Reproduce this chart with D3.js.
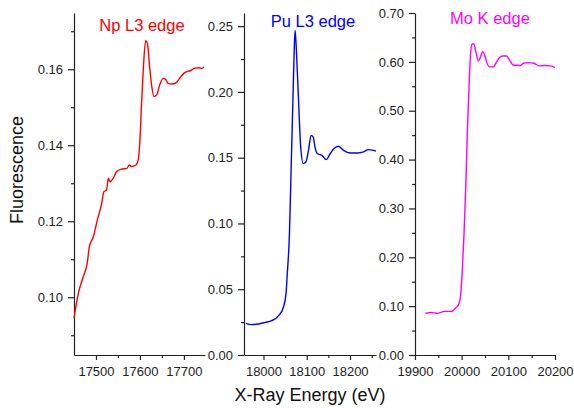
<!DOCTYPE html>
<html>
<head>
<meta charset="utf-8">
<script src="https://cdn.jsdelivr.net/npm/d3@7.9.0/dist/d3.min.js"></script>
<style>
  body { margin: 0; background: #fff; }
  svg { display: block; font-family: "Liberation Sans", Arial, sans-serif; }
  .axis path, .axis line { stroke: #222; stroke-width: 1.2; }
  .axis text { font-size: 13px; fill: #222; }
</style>
</head>
<body>
<div id="chart"></div>
<script>
// spectra: [energy eV, fluorescence]
const npSpectrum = [
  [17450, 0.0945], [17460, 0.1011], [17471, 0.1054], [17480, 0.1089], [17485, 0.1133],
  [17494, 0.1159], [17503, 0.1203], [17513, 0.1247], [17518, 0.1278], [17524, 0.1282],
  [17528, 0.1313], [17532, 0.1304], [17539, 0.1313], [17547, 0.1331], [17558, 0.1337],
  [17570, 0.1339], [17576, 0.1348], [17581, 0.1344], [17591, 0.1348], [17596, 0.1361],
  [17600, 0.1414], [17604, 0.1519], [17608, 0.1607], [17613, 0.1675], [17617, 0.1668],
  [17622, 0.1607], [17627, 0.1554], [17632, 0.1528], [17638, 0.1532], [17645, 0.1559],
  [17653, 0.1576], [17658, 0.1574], [17664, 0.1563], [17672, 0.1561], [17683, 0.1565],
  [17690, 0.1576], [17702, 0.1591], [17714, 0.1596], [17725, 0.1603], [17735, 0.1604],
  [17740, 0.1602], [17746, 0.1606]
];
const puSpectrum = [
  [17959, 0.0241], [17973, 0.0231], [17988, 0.0236], [18004, 0.0248], [18019, 0.0261],
  [18035, 0.0299], [18046, 0.0363], [18052, 0.0465], [18055, 0.0617], [18060, 0.0921],
  [18064, 0.1429], [18068, 0.1937], [18071, 0.2318], [18073, 0.2470], [18076, 0.2318],
  [18081, 0.1937], [18086, 0.1581], [18092, 0.1455], [18098, 0.1467], [18104, 0.1556],
  [18110, 0.1670], [18115, 0.1657], [18119, 0.1581], [18125, 0.1530], [18135, 0.1518],
  [18145, 0.1485], [18154, 0.1530], [18163, 0.1569], [18173, 0.1587], [18185, 0.1556],
  [18200, 0.1536], [18219, 0.1536], [18231, 0.1544], [18242, 0.1561], [18254, 0.1556],
  [18260, 0.1550]
];
const moSpectrum = [
  [19922, 0.0851], [19934, 0.0871], [19948, 0.0851], [19963, 0.0892], [19978, 0.0892],
  [19987, 0.0961], [19994, 0.1043], [19998, 0.1247], [20001, 0.1656], [20005, 0.2474],
  [20009, 0.3497], [20012, 0.4519], [20016, 0.5542], [20019, 0.6155], [20022, 0.6360],
  [20026, 0.6370], [20030, 0.6223], [20036, 0.6018], [20041, 0.6120], [20045, 0.6209],
  [20050, 0.6120], [20055, 0.5951], [20061, 0.5897], [20068, 0.5897], [20074, 0.5985],
  [20081, 0.6087], [20088, 0.6120], [20096, 0.6120], [20103, 0.6032], [20110, 0.5937],
  [20119, 0.5930], [20126, 0.5924], [20133, 0.5978], [20144, 0.5985], [20155, 0.5971],
  [20166, 0.5917], [20177, 0.5924], [20191, 0.5917], [20200, 0.5883]
];

const npXTicks = [17500, 17600, 17700];
const npXMinor = [17550, 17650];
const npYTicks = [0.10, 0.12, 0.14, 0.16];
const npYMinor = [0.09, 0.11, 0.13, 0.15, 0.17];

const puXTicks = [18000, 18100, 18200];
const puXMinor = [18050, 18150, 18250];
const puYTicks = [0.00, 0.05, 0.10, 0.15, 0.20, 0.25];
const puYMinor = [0.025, 0.075, 0.125, 0.175, 0.225];

const moXTicks = [19900, 20000, 20100, 20200];
const moXMinor = [19950, 20050, 20150];
const moYTicks = [0.00, 0.10, 0.20, 0.30, 0.40, 0.50, 0.60, 0.70];
const moYMinor = [0.05, 0.15, 0.25, 0.35, 0.45, 0.55, 0.65];

const width = 574;
const height = 408;
const plotTop = 13, plotBottom = 355;

const panels = [
  { name: 'Np L3 edge', color: '#ff0000', data: npSpectrum,
    xDomain: [17450, 17748], xRange: [74, 205], yDomain: [0.0848, 0.1748],
    xTicks: npXTicks, xMinor: npXMinor, yTicks: npYTicks, yMinor: npYMinor,
    title: [142, 31] },
  { name: 'Pu L3 edge', color: '#0000ff', data: puSpectrum,
    xDomain: [17955, 18260], xRange: [244, 376], yDomain: [0, 0.26],
    xTicks: puXTicks, xMinor: puXMinor, yTicks: puYTicks, yMinor: puYMinor,
    title: [313, 27] },
  { name: 'Mo K edge', color: '#ff00ff', data: moSpectrum,
    xDomain: [19900, 20200], xRange: [415, 555], yDomain: [0, 0.70],
    xTicks: moXTicks, xMinor: moXMinor, yTicks: moYTicks, yMinor: moYMinor,
    title: [490, 24] },
];

const svg = d3.select('#chart').append('svg')
  .attr('width', width)
  .attr('height', height);

panels.forEach(p => {
  const x = d3.scaleLinear().domain(p.xDomain).range(p.xRange);
  const y = d3.scaleLinear().domain(p.yDomain).range([plotBottom, plotTop]);

  // minor ticks first, no labels
  svg.append('g')
    .attr('class', 'axis')
    .attr('transform', `translate(0,${plotBottom})`)
    .call(d3.axisBottom(x).tickValues(p.xMinor.filter(v => v <= p.xDomain[1]))
      .tickSize(3).tickSizeOuter(0).tickFormat(''))
    .call(g => g.select('.domain').remove());

  svg.append('g')
    .attr('class', 'axis')
    .attr('transform', `translate(${p.xRange[0]},0)`)
    .call(d3.axisLeft(y).tickValues(p.yMinor).tickSize(3).tickSizeOuter(0).tickFormat(''))
    .call(g => g.select('.domain').remove());

  svg.append('g')
    .attr('class', 'axis')
    .attr('transform', `translate(0,${plotBottom})`)
    .call(d3.axisBottom(x).tickValues(p.xTicks).tickSize(5).tickPadding(7)
      .tickSizeOuter(0).tickFormat(d3.format('d')));

  svg.append('g')
    .attr('class', 'axis')
    .attr('transform', `translate(${p.xRange[0]},0)`)
    .call(d3.axisLeft(y).tickValues(p.yTicks).tickSize(6).tickPadding(5)
      .tickSizeOuter(0).tickFormat(d3.format('.2f')));

  const line = d3.line()
    .x(d => x(d[0]))
    .y(d => y(d[1]))
    .curve(d3.curveMonotoneX);

  svg.append('path')
    .datum(p.data)
    .attr('fill', 'none')
    .attr('stroke', p.color)
    .attr('stroke-width', 1.4)
    .attr('d', line);

  svg.append('text')
    .attr('x', p.title[0])
    .attr('y', p.title[1])
    .attr('text-anchor', 'middle')
    .attr('fill', p.color)
    .style('font-size', '16.5px')
    .text(p.name);
});

svg.append('text')
  .attr('transform', 'translate(23,170) rotate(-90)')
  .attr('text-anchor', 'middle')
  .style('font-size', '18px')
  .attr('fill', '#111')
  .text('Fluorescence');

svg.append('text')
  .attr('x', 310)
  .attr('y', 401)
  .attr('text-anchor', 'middle')
  .style('font-size', '18px')
  .attr('fill', '#111')
  .text('X-Ray Energy (eV)');
</script>
</body>
</html>
